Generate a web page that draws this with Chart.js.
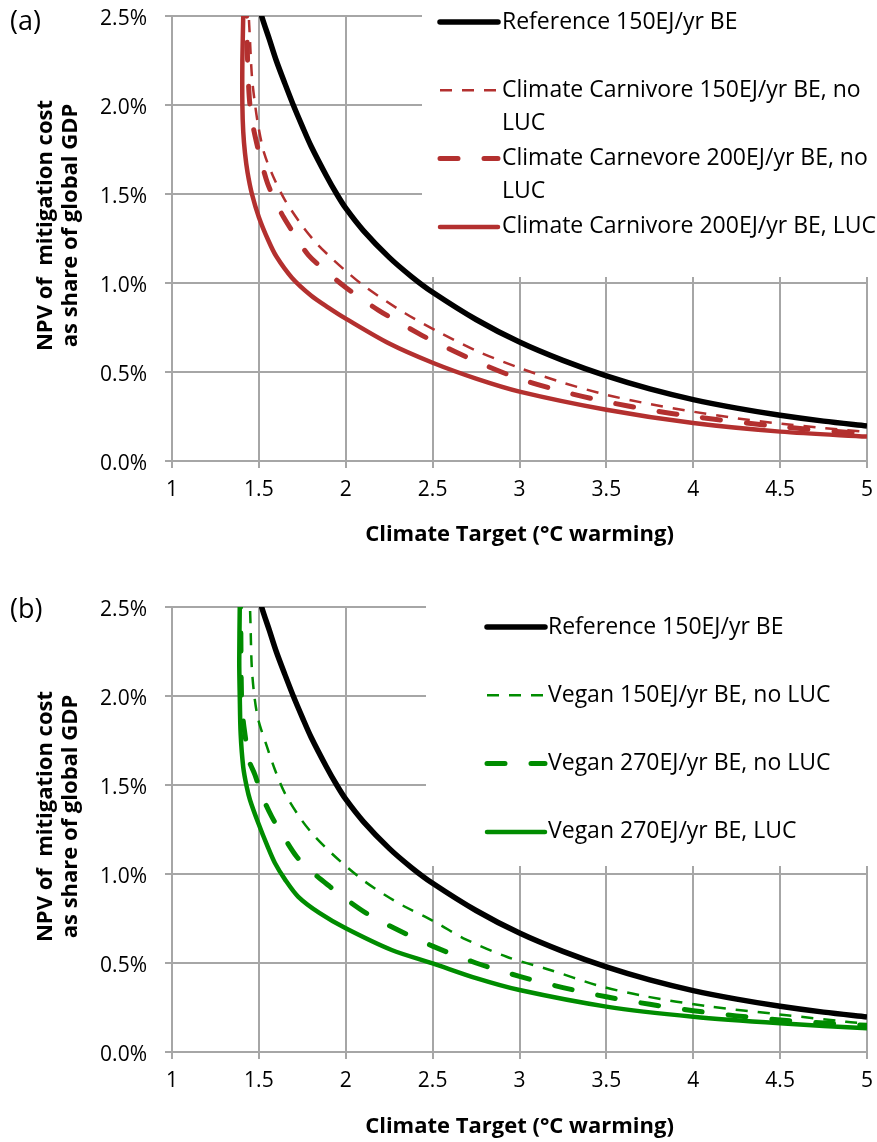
<!DOCTYPE html>
<html><head><meta charset="utf-8">
<script src="https://cdn.jsdelivr.net/npm/chart.js@4.4.1/dist/chart.umd.min.js"></script>
<style>
html,body{margin:0;padding:0;background:#fff;}
#wrap{position:relative;width:877px;height:1142px;overflow:hidden;background:#fff;}
canvas{position:absolute;left:0;}
.panel{position:absolute;left:10px;font-family:'Open Sans',sans-serif;font-size:27px;color:#000;line-height:27px;}
</style></head><body>
<div id="wrap">
<canvas id="ca" width="877" height="560" style="top:0px"></canvas>
<canvas id="cb" width="877" height="582" style="top:560px"></canvas>
<div class="panel" style="top:6px">(a)</div>
<div class="panel" style="top:594px">(b)</div>
</div>
<script>
// ---------- data ----------
const xTickLabels = ['1','1.5','2','2.5','3','3.5','4','4.5','5'];
const yTickLabels = ['0.0%','0.5%','1.0%','1.5%','2.0%','2.5%'];
const xTitle = 'Climate Target (°C warming)';
const yTitle = ['NPV of  mitigation cost', 'as share of global GDP'];

const refLabel = 'Reference 150EJ/yr BE';
const refX = [1.50,1.516,1.56,1.6,1.65,1.698,1.75,1.8,1.89,1.948,2.0,2.1,2.25,2.38,2.5,2.75,3.0,3.25,3.5,3.75,4.0,4.25,4.5,4.75,5.0];
const refY = [2.58,2.5,2.37,2.25,2.12,2.0,1.88,1.77,1.60,1.5,1.42,1.296,1.144,1.035,0.948,0.795,0.668,0.565,0.478,0.405,0.345,0.297,0.257,0.224,0.197];

const carn150Label = 'Climate Carnivore 150EJ/yr BE, no LUC';
const carn150X = [1.44,1.442,1.447,1.46,1.477,1.497,1.531,1.583,1.65,1.746,1.83,1.919,2.0,2.111,2.341,2.533,2.75,3.0,3.25,3.5,3.75,4.0,4.25,4.5,4.75,5.0];
const carn150Y = [2.6,2.5,2.4,2.16,2.01,1.88,1.728,1.597,1.466,1.326,1.225,1.139,1.068,0.979,0.830,0.726,0.62,0.523,0.44,0.372,0.32,0.277,0.24,0.21,0.185,0.163];

const carn200Label = 'Climate Carnevore 200EJ/yr BE, no LUC';
const carn200X = [1.428,1.43,1.435,1.445,1.46,1.487,1.516,1.55,1.6,1.641,1.7,1.785,1.9,2.0,2.187,2.418,2.5,2.75,3.0,3.25,3.5,3.75,4.0,4.5,5.0];
const carn200Y = [2.6,2.5,2.25,2.04,1.915,1.787,1.674,1.56,1.45,1.372,1.28,1.157,1.055,0.975,0.848,0.717,0.675,0.56,0.462,0.39,0.333,0.287,0.25,0.193,0.152];

const carnLucLabel = 'Climate Carnivore 200EJ/yr BE, LUC';
const carnLucX = [1.41,1.41,1.405,1.405,1.41,1.42,1.435,1.46,1.5,1.554,1.6,1.69,1.8,1.9,2.0,2.25,2.5,2.75,3.0,3.5,4.0,4.5,5.0];
const carnLucY = [2.6,2.5,2.25,2.0,1.85,1.73,1.62,1.5,1.37,1.24,1.15,1.03,0.93,0.862,0.80,0.66,0.552,0.463,0.39,0.288,0.213,0.165,0.137];

const veg150Label = 'Vegan 150EJ/yr BE, no LUC';
const veg150X = [1.448,1.449,1.452,1.459,1.474,1.497,1.545,1.593,1.65,1.746,1.823,1.919,2.015,2.111,2.226,2.341,2.456,2.542,2.677,2.926,3.176,3.444,3.713,4.096,4.48,4.88,5.0];
const veg150Y = [2.6,2.5,2.4,2.165,2.0,1.865,1.72,1.584,1.453,1.303,1.21,1.116,1.032,0.957,0.882,0.816,0.76,0.715,0.639,0.535,0.461,0.376,0.315,0.255,0.213,0.17,0.16];

const veg270Label = 'Vegan 270EJ/yr BE, no LUC';
const veg270X = [1.392,1.395,1.40,1.41,1.425,1.44,1.478,1.516,1.574,1.631,1.718,1.794,1.909,2.0,2.12,2.25,2.5,2.75,3.0,3.25,3.5,3.75,4.0,4.25,4.5,4.75,5.0];
const veg270Y = [2.6,2.5,2.0,1.86,1.75,1.645,1.556,1.444,1.322,1.228,1.097,1.022,0.929,0.86,0.779,0.71,0.595,0.50,0.425,0.362,0.31,0.268,0.232,0.203,0.18,0.163,0.15];

const vegLucLabel = 'Vegan 270EJ/yr BE, LUC';
const vegLucX = [1.39,1.39,1.387,1.39,1.395,1.41,1.43,1.449,1.497,1.55,1.593,1.65,1.727,1.85,2.0,2.264,2.5,2.75,3.0,3.5,4.0,4.5,5.0];
const vegLucY = [2.6,2.5,2.2,2.0,1.79,1.6,1.49,1.416,1.285,1.155,1.06,0.97,0.872,0.78,0.695,0.573,0.498,0.415,0.348,0.255,0.198,0.161,0.133];

// ---------- styling ----------
const RED = '#B3302F', GREEN = '#008C00', BLACK = '#000000';
const GRID = '#A6A6A6';
const FONT = "'Open Sans', sans-serif";
Chart.defaults.font.family = FONT;
Chart.defaults.color = '#000';

function pts(xs, ys){ return xs.map((x,i)=>({x:x, y:ys[i]})); }

function lineDs(label, xs, ys, color, kind, order){
  const ds = {label, data: pts(xs, ys), borderColor: color, backgroundColor: color,
    pointRadius: 0, tension: 0.3, fill: false, order: order};
  if (kind === 'ref'){ ds.borderWidth = 5.5; }
  else if (kind === 'solid'){ ds.borderWidth = 4.5; }
  else if (kind === 'thin'){ ds.borderWidth = 2.5; ds.borderDash = [12,10]; }
  else if (kind === 'thick'){ ds.borderWidth = 5; ds.borderDash = [18,26]; ds.borderCapStyle = 'round'; }
  return ds;
}

const boxLegend = {
  id: 'boxLegend',
  beforeDatasetsDraw(chart, args, o){
    const ctx = chart.ctx;
    ctx.save();
    ctx.fillStyle = '#fff';
    ctx.fillRect(o.box[0], o.box[1], o.box[2], o.box[3]);
    ctx.font = o.font;
    ctx.textBaseline = 'middle';
    ctx.textAlign = 'left';
    chart.data.datasets.forEach((ds, i) => {
      const y = o.y0 + i * o.step;
      ctx.save();
      ctx.strokeStyle = ds.borderColor;
      ctx.lineWidth = ds.borderWidth;
      ctx.lineCap = ds.borderCapStyle || (ds.borderDash ? 'butt' : 'round');
      ctx.setLineDash(ds.borderDash || []);
      ctx.beginPath(); ctx.moveTo(o.x0, y); ctx.lineTo(o.x1, y); ctx.stroke();
      ctx.restore();
      const words = ds.label.split(' ');
      const lines = []; let cur = '';
      words.forEach(w => {
        const t = cur ? cur + ' ' + w : w;
        if (cur && ctx.measureText(t).width > o.maxW) { lines.push(cur); cur = w; } else cur = t;
      });
      lines.push(cur);
      ctx.fillStyle = '#000';
      lines.forEach((l, j) => ctx.fillText(l, o.tx, y + j * o.lh));
    });
    ctx.restore();
  }
};

// y-axis title drawn rotated, centred slightly above the plot centre as in the original
const yTitlePlugin = {
  id: 'yTitle',
  afterDraw(chart, args, o){
    const ctx = chart.ctx, ca = chart.chartArea;
    ctx.save();
    ctx.font = "bold 22px 'Open Sans', sans-serif";
    ctx.fillStyle = '#000';
    ctx.textAlign = 'center';
    ctx.textBaseline = 'middle';
    const cy = (ca.top + ca.bottom) / 2 + o.shift;
    o.lines.forEach((l, j) => {
      ctx.save();
      ctx.translate(o.x0 + j * o.lh, cy);
      ctx.rotate(-Math.PI / 2);
      ctx.fillText(l, 0, 0);
      ctx.restore();
    });
    ctx.restore();
  }
};

function makeChart(id, datasets, H, padTop, plotBottom, titleBottomPad, legendOpts){
  return new Chart(document.getElementById(id), {
    type: 'line',
    data: { datasets },
    plugins: [boxLegend, yTitlePlugin],
    options: {
      responsive: false, animation: false, devicePixelRatio: 1,
      layout: { padding: { left: 0, right: 10, top: padTop, bottom: 0 } },
      plugins: { legend: { display: false }, tooltip: { enabled: false }, boxLegend: legendOpts,
                 yTitle: { lines: yTitle, x0: 46, lh: 25, shift: -13 } },
      scales: {
        x: {
          type: 'linear', min: 1, max: 5,
          afterFit: s => { s.height = H - plotBottom; s.paddingLeft = 0; s.paddingRight = 0; },
          ticks: { stepSize: 0.5, callback: (v, i) => xTickLabels[i], font: { size: 21 }, color: '#000', padding: 9, maxRotation: 0 },
          grid: { color: GRID, lineWidth: 2, tickLength: 7, tickColor: GRID, drawTicks: true },
          border: { color: GRID, width: 2 },
          title: { display: true, text: xTitle, color: '#000',
                   font: { size: 22, weight: 'bold', lineHeight: 1.2 }, padding: { top: 0, bottom: titleBottomPad } }
        },
        y: {
          type: 'linear', min: 0, max: 2.5,
          afterFit: s => { s.width = 172; s.paddingTop = 0; s.paddingBottom = 0; },
          ticks: { stepSize: 0.5, callback: (v, i) => yTickLabels[i], font: { size: 21 }, color: '#000', padding: 18, labelOffset: 3 },
          grid: { color: GRID, lineWidth: 2, tickLength: 7, tickColor: GRID, drawTicks: true },
          border: { color: GRID, width: 2 },
          title: { display: false }
        }
      }
    }
  });
}

makeChart('ca', [
  lineDs(refLabel, refX, refY, BLACK, 'ref', 4),
  lineDs(carn150Label, carn150X, carn150Y, RED, 'thin', 3),
  lineDs(carn200Label, carn200X, carn200Y, RED, 'thick', 2),
  lineDs(carnLucLabel, carnLucX, carnLucY, RED, 'solid', 1)
], 560, 16, 461, 12,
  { box: [422, 0, 455, 277], x0: 440, x1: 498, tx: 502, y0: 22, step: 68.3, lh: 33, maxW: 392, font: "23px 'Open Sans', sans-serif" });

makeChart('cb', [
  lineDs(refLabel, refX, refY, BLACK, 'ref', 4),
  lineDs(veg150Label, veg150X, veg150Y, GREEN, 'thin', 3),
  lineDs(veg270Label, veg270X, veg270Y, GREEN, 'thick', 2),
  lineDs(vegLucLabel, vegLucX, vegLucY, GREEN, 'solid', 1)
], 582, 47, 492, 2,
  { box: [426, 0, 451, 306], x0: 487, x1: 545, tx: 548, y0: 67, step: 68.3, lh: 33, maxW: 340, font: "23px 'Open Sans', sans-serif" });
</script>
</body></html>
